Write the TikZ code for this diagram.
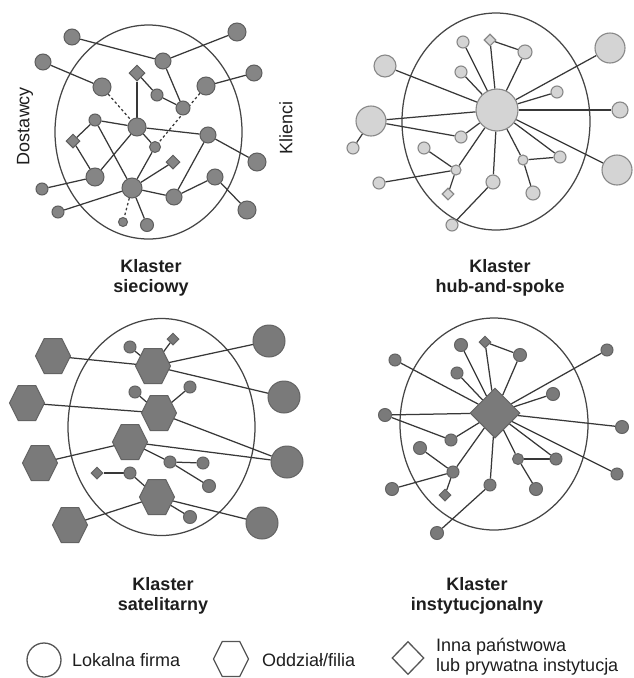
\documentclass[tikz,border=0pt]{standalone}
\usepackage{fontspec}
\setmainfont{Liberation Sans}
\usetikzlibrary{shapes.geometric}
\pgfdeclarelayer{bg}
\pgfsetlayers{bg,main}
\definecolor{lc}{HTML}{383838}
\definecolor{ellc}{HTML}{454545}
\definecolor{gf}{HTML}{858585}
\definecolor{gb}{HTML}{5E5E5E}
\definecolor{lf}{HTML}{D4D4D4}
\definecolor{lb}{HTML}{888888}
\definecolor{df}{HTML}{7A7A7A}
\definecolor{db}{HTML}{636363}
\definecolor{tc}{HTML}{1E1E1E}
\definecolor{legc}{HTML}{555555}
\begin{document}
\begin{tikzpicture}[x=1pt,y=-1pt,
  edge/.style={draw=lc, line width=1.25pt},
  dashedge/.style={draw=lc, line width=1.25pt, dash pattern=on 2.5pt off 2.5pt},
  ell/.style={draw=ellc, line width=1.25pt},
  g/.style={circle, draw=gb, fill=gf, line width=1pt, inner sep=0pt, minimum size=#1pt},
  gd/.style={diamond, draw=gb, fill=gf, line width=1pt, inner sep=0pt, minimum width=#1pt, minimum height=#1pt},
  l/.style={circle, draw=lb, fill=lf, line width=1.1pt, inner sep=0pt, minimum size=#1pt},
  ld/.style={diamond, draw=lb, fill=lf, line width=1.1pt, inner sep=0pt, minimum width=#1pt, minimum height=#1pt},
  dk/.style={circle, draw=db, fill=df, line width=1pt, inner sep=0pt, minimum size=#1pt},
  dkd/.style={diamond, draw=db, fill=df, line width=1pt, inner sep=0pt, minimum width=#1pt, minimum height=#1pt},
  hexanchor/.style={circle, inner sep=0pt, minimum size=30pt},
  hexfill/.style={draw=db, fill=df, line width=1pt},
  hexleg/.style={draw=legc, fill=white, line width=1.3pt},
  hexa/.pic={\draw[#1] (-17.5,0) -- (-8.75,17.5) -- (8.75,17.5) -- (17.5,0) -- (8.75,-17.5) -- (-8.75,-17.5) -- cycle;},
  ttl/.style={font=\fontsize{18}{20}\selectfont\bfseries, text=tc, inner sep=0pt, anchor=base},
  lab/.style={font=\fontsize{18}{20}\selectfont, text=tc, inner sep=0pt}
]
\useasboundingbox (0,0) rectangle (633,678);

% ---------------- Panel 1: sieciowy ----------------
\node[g=16] (a1) at (72,37) {};
\node[g=18] (a2) at (237,32) {};
\node[g=16] (a3) at (43,62) {};
\node[g=16] (a4) at (163,61) {};
\node[gd=16] (d1) at (137,73) {};
\node[g=16] (a5) at (254,73) {};
\node[g=18] (a6) at (102,87) {};
\node[g=18] (a7) at (206,86) {};
\node[g=12] (a8) at (157,95) {};
\node[g=14] (a9) at (183,108) {};
\node[g=12] (a10) at (95,120) {};
\node[g=18] (a11) at (137,127) {};
\node[g=16] (a12) at (208,135) {};
\node[gd=14] (d2) at (73,141) {};
\node[g=11] (a13) at (155,147) {};
\node[gd=14] (d3) at (173,162) {};
\node[g=18] (a14) at (257,162) {};
\node[g=18] (a15) at (95,177) {};
\node[g=16] (a16) at (215,177) {};
\node[g=20] (a17) at (132,188) {};
\node[g=12] (a18) at (42,189) {};
\node[g=16] (a19) at (174,197) {};
\node[g=18] (a20) at (247,210) {};
\node[g=12] (a21) at (58,212) {};
\node[g=9] (a22) at (123,222) {};
\node[g=13] (a23) at (147,225) {};

% ---------------- Panel 2: hub-and-spoke ----------------
\node[l=42] (h) at (497,110) {};
\node[l=12] (b1) at (463,42) {};
\node[ld=12] (bd1) at (490,40) {};
\node[l=14] (b2) at (525,52) {};
\node[l=30] (b3) at (610,48) {};
\node[l=12] (b4) at (461,72) {};
\node[l=22] (b5) at (385,66) {};
\node[l=12] (b6) at (557,92) {};
\node[l=30] (b7) at (371,121) {};
\node[l=16] (b8) at (620,110) {};
\node[l=12] (b9) at (353,148) {};
\node[l=12] (b10) at (461,137) {};
\node[l=12] (b11) at (424,148) {};
\node[l=10] (b12) at (456,170) {};
\node[l=10] (b13) at (523,160) {};
\node[l=12] (b14) at (560,157) {};
\node[l=30] (b15) at (617,170) {};
\node[l=12] (b16) at (379,183) {};
\node[ld=12] (bd2) at (448,194) {};
\node[l=14] (b17) at (493,182) {};
\node[l=14] (b18) at (533,193) {};
\node[l=12] (b19) at (452,225) {};

% ---------------- Panel 3: satelitarny ----------------
\node[hexanchor] (ch1) at (53,356) {};
\node[hexanchor] (ch2) at (153,366) {};
\node[hexanchor] (ch3) at (27,403) {};
\node[hexanchor] (ch4) at (159,413) {};
\node[hexanchor] (ch5) at (130,442) {};
\node[hexanchor] (ch6) at (40,463) {};
\node[hexanchor] (ch7) at (157,497) {};
\node[hexanchor] (ch8) at (70,525) {};
\foreach \h in {ch1,ch2,ch3,ch4,ch5,ch6,ch7,ch8} {\pic at (\h) {hexa=hexfill};}
\node[dk=12] (c1) at (130,347) {};
\node[dkd=12] (cd1) at (173,339) {};
\node[dk=12] (c2) at (135,392) {};
\node[dk=12] (c3) at (190,387) {};
\node[dkd=12] (cd2) at (97,473) {};
\node[dk=12] (c4) at (130,473) {};
\node[dk=12] (c5) at (170,462) {};
\node[dk=12] (c6) at (203,463) {};
\node[dk=13] (c7) at (209,486) {};
\node[dk=13] (c8) at (190,517) {};
\node[dk=32] (cl1) at (269,341) {};
\node[dk=32] (cl2) at (284,397) {};
\node[dk=32] (cl3) at (287,462) {};
\node[dk=32] (cl4) at (262,523) {};

% ---------------- Panel 4: instytucjonalny ----------------
\node[dkd=50] (ec) at (495,413) {};
\node[dk=12] (e1) at (395,360) {};
\node[dk=13] (e2) at (461,345) {};
\node[dkd=12] (ed1) at (485,342) {};
\node[dk=13] (e3) at (520,355) {};
\node[dk=12] (e4) at (607,350) {};
\node[dk=12] (e5) at (457,373) {};
\node[dk=13] (e6) at (553,394) {};
\node[dk=13] (e7) at (385,415) {};
\node[dk=13] (e8) at (622,427) {};
\node[dk=12] (e9) at (451,440) {};
\node[dk=13] (e10) at (420,448) {};
\node[dk=11] (e11) at (518,459) {};
\node[dk=12] (e12) at (556,459) {};
\node[dk=12] (e13) at (453,472) {};
\node[dk=12] (e14) at (617,474) {};
\node[dk=13] (e15) at (392,489) {};
\node[dk=12] (e16) at (490,485) {};
\node[dkd=12] (ed2) at (445,495) {};
\node[dk=13] (e17) at (536,489) {};
\node[dk=13] (e18) at (437,533) {};

\begin{pgfonlayer}{bg}
  \draw[ell] (148.5,132) ellipse [x radius=93.5, y radius=107];
  \draw[ell] (496,121.5) ellipse [x radius=94, y radius=108.5];
  \draw[ell] (161.5,427) ellipse [x radius=93.5, y radius=108.5];
  \draw[ell] (494,424) ellipse [x radius=94, y radius=106];
  % panel 1 edges
  \draw[edge] (a1) -- (a4);
  \draw[edge] (a4) -- (a2);
  \draw[edge] (a4) -- (a9);
  \draw[edge] (d1) -- (a8);
  \draw[edge] (a8) -- (a9);
  \draw[edge] (a3) -- (a6);
  \draw[dashedge] (a6) -- (a11);
  \draw[edge] (d1) -- (a11);
  \draw[edge] (a10) -- (a11);
  \draw[edge] (a11) -- (a12);
  \draw[edge] (a11) -- (a15);
  \draw[edge] (a11) -- (a13);
  \draw[dashedge] (a7) -- (a13);
  \draw[edge] (a10) -- (d2);
  \draw[edge] (d2) -- (a15);
  \draw[edge] (a10) -- (a17);
  \draw[edge] (a18) -- (a15);
  \draw[edge] (a21) -- (a17);
  \draw[dashedge] (a17) -- (a22);
  \draw[edge] (a17) -- (a23);
  \draw[edge] (a17) -- (a19);
  \draw[edge] (a17) -- (a13);
  \draw[edge] (a17) -- (d3);
  \draw[edge] (a19) -- (a12);
  \draw[edge] (a19) -- (a16);
  \draw[edge] (a16) -- (a20);
  \draw[edge] (a12) -- (a14);
  \draw[edge] (a7) -- (a5);
  % panel 2 edges
  \foreach \t in {b1,bd1,b2,b3,b4,b5,b6,b7,b8,b10,b12,b13,b14,b15,b17}
    {\draw[edge] (h) -- (\t);}
  \draw[edge] (bd1) -- (b2);
  \draw[edge] (b7) -- (b9);
  \draw[edge] (b7) -- (b10);
  \draw[edge] (b11) -- (b12);
  \draw[edge] (b16) -- (b12);
  \draw[edge] (b12) -- (bd2);
  \draw[edge] (b17) -- (b19);
  \draw[edge] (b13) -- (b14);
  \draw[edge] (b13) -- (b18);
  % panel 3 edges
  \draw[edge] (ch1) -- (ch2);
  \draw[edge] (c1) -- (ch2);
  \draw[edge] (ch2) -- (cd1);
  \draw[edge] (ch2) -- (cl1);
  \draw[edge] (ch2) -- (cl2);
  \draw[edge] (ch3) -- (ch4);
  \draw[edge] (c2) -- (ch4);
  \draw[edge] (ch4) -- (c3);
  \draw[edge] (ch4) -- (cl3);
  \draw[edge] (ch6) -- (ch5);
  \draw[edge] (ch5) -- (cl3);
  \draw[edge] (ch5) -- (c5);
  \draw[edge] (c5) -- (c6);
  \draw[edge] (c5) -- (c7);
  \draw[edge] (cd2) -- (c4);
  \draw[edge] (c4) -- (ch7);
  \draw[edge] (ch8) -- (ch7);
  \draw[edge] (ch7) -- (cl4);
  \draw[edge] (ch7) -- (c8);
  % panel 4 edges
  \foreach \t in {e1,e2,ed1,e3,e4,e5,e6,e7,e8,e9,e11,e12,e13,e14,e16}
    {\draw[edge] (ec) -- (\t);}
  \draw[edge] (ed1) -- (e3);
  \draw[edge] (e7) -- (e9);
  \draw[edge] (e10) -- (e13);
  \draw[edge] (e15) -- (e13);
  \draw[edge] (e13) -- (ed2);
  \draw[edge] (e16) -- (e18);
  \draw[edge] (e11) -- (e12);
  \draw[edge] (e11) -- (e17);
\end{pgfonlayer}

% ---------------- Labels ----------------
\node[lab, rotate=90] (dost) at (25,126) {Dostawcy};
\node[lab, rotate=90] (klie) at (286,128) {Klienci};
\node[ttl] (t1a) at (151,272) {Klaster};
\node[ttl] (t1b) at (151,292) {sieciowy};
\node[ttl] (t2a) at (500,272) {Klaster};
\node[ttl] (t2b) at (500,292) {hub-and-spoke};
\node[ttl] (t3a) at (163,590) {Klaster};
\node[ttl] (t3b) at (163,610) {satelitarny};
\node[ttl] (t4a) at (477,590) {Klaster};
\node[ttl] (t4b) at (477,610) {instytucjonalny};

% ---------------- Legend ----------------
\node[circle, draw=legc, fill=white, line width=1.3pt, minimum size=34pt, inner sep=0pt] (lg1) at (44,660) {};
\node[lab, anchor=base west] (lt1) at (72,666) {Lokalna firma};
\node[hexanchor] (lg2) at (231,659) {};
\pic at (lg2) {hexa=hexleg};
\node[lab, anchor=base west] (lt2) at (262,666) {Oddział/filia};
\node[diamond, draw=legc, fill=white, line width=1.3pt, minimum width=32pt, minimum height=33pt, inner sep=0pt] (lg3) at (408,658) {};
\node[lab, anchor=base west] (lt3a) at (436,651) {Inna państwowa};
\node[lab, anchor=base west] (lt3b) at (436,671) {lub prywatna instytucja};
\end{tikzpicture}
\end{document}
